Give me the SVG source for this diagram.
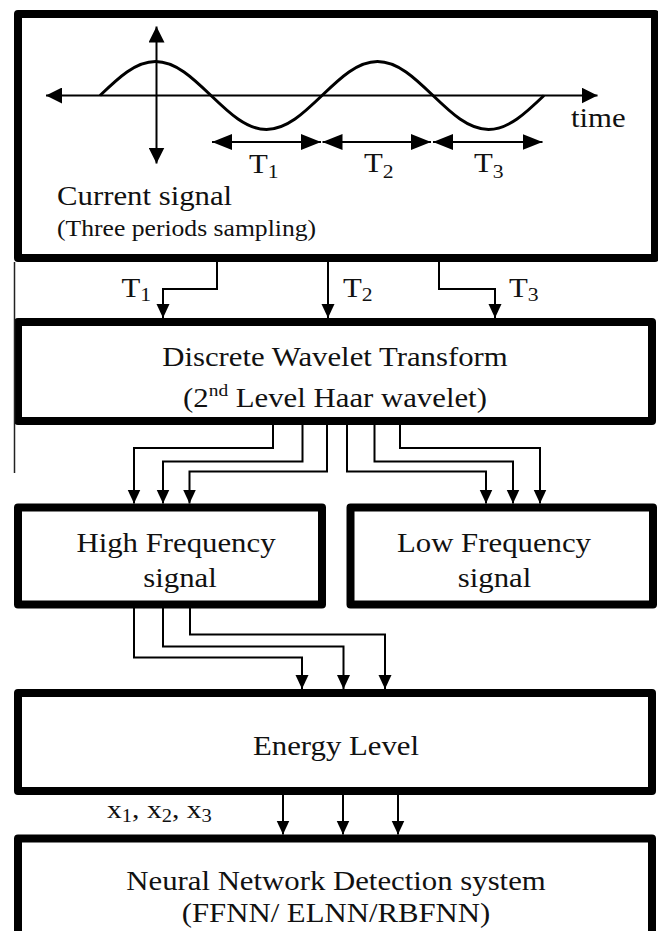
<svg xmlns="http://www.w3.org/2000/svg" width="658" height="931" viewBox="0 0 658 931">
  <defs>
    <style>
      .box{fill:#fff;stroke:#000;stroke-width:8;stroke-linejoin:round}
      .ln{fill:none;stroke:#000;stroke-width:2}
      .tx{font-family:"Liberation Serif","Times New Roman",serif;font-size:27px;fill:#111}
      .mid{text-anchor:middle}
    </style>
    <marker id="ah" viewBox="0 0 14 14" markerWidth="14" markerHeight="14" refX="14" refY="7" markerUnits="userSpaceOnUse" orient="auto">
      <path d="M0,0.5 L14,7 L0,13.5 Z" fill="#000"/>
    </marker>
    <marker id="big" viewBox="0 0 16 16" markerWidth="16" markerHeight="16" refX="16" refY="8" markerUnits="userSpaceOnUse" orient="auto-start-reverse">
      <path d="M0,0 L16,8 L0,16 Z" fill="#000"/>
    </marker>
    <marker id="tp" viewBox="0 0 20 16" markerWidth="20" markerHeight="16" refX="20" refY="8" markerUnits="userSpaceOnUse" orient="auto-start-reverse">
      <path d="M0,0 L20,8 L0,16 Z" fill="#000"/>
    </marker>
  </defs>
  <rect width="658" height="931" fill="#fff"/>

  <g id="current-signal">
    <rect class="box" x="18" y="14" width="637" height="244"/>
    <line class="ln" x1="46" y1="95.5" x2="597.5" y2="95.5" marker-start="url(#big)" marker-end="url(#big)"/>
    <line class="ln" x1="156.5" y1="26.5" x2="156.5" y2="163.5" marker-start="url(#big)" marker-end="url(#big)"/>
    <path d="M100,95.5 C118.1,78.1 135.4,61.5 155.5,61.5 C175.6,61.5 192.9,78.1 211,95.5 C229.1,112.9 246.4,129.5 266.5,129.5 C286.6,129.5 303.9,112.9 322,95.5 C340.1,78.1 357.4,61.5 377.5,61.5 C397.6,61.5 414.9,78.1 433,95.5 C451.1,112.9 468.4,129.5 488.5,129.5 C508.6,129.5 525.9,112.9 544,95.5" fill="none" stroke="#000" stroke-width="3"/>
    <line class="ln" x1="212" y1="142" x2="321" y2="142" marker-start="url(#tp)" marker-end="url(#tp)"/>
    <line class="ln" x1="322.5" y1="142" x2="431" y2="142" marker-start="url(#tp)" marker-end="url(#tp)"/>
    <line class="ln" x1="433" y1="142" x2="542.5" y2="142" marker-start="url(#tp)" marker-end="url(#tp)"/>
    <text class="tx" transform="translate(571,127) scale(1.14,1)">time</text>
    <text class="tx" transform="translate(249,172.5) scale(1.14,1)">T<tspan font-size="19" dy="5.5">1</tspan></text>
    <text class="tx" transform="translate(364,172) scale(1.14,1)">T<tspan font-size="19" dy="5.5">2</tspan></text>
    <text class="tx" transform="translate(474,172) scale(1.14,1)">T<tspan font-size="19" dy="5.5">3</tspan></text>
    <text class="tx" transform="translate(57,205) scale(1.14,1)">Current signal</text>
    <text class="tx" transform="translate(57,236) scale(1.14,1)" style="font-size:22.5px">(Three periods sampling)</text>
  </g>

  <g id="dwt">
    <rect class="box" x="18" y="322" width="634" height="99"/>
    <text class="tx mid" transform="translate(335,366) scale(1.14,1)">Discrete Wavelet Transform</text>
    <text class="tx mid" transform="translate(335,406.5) scale(1.14,1)">(2<tspan font-size="17" dy="-11">nd</tspan><tspan dy="11"> Level Haar wavelet)</tspan></text>
  </g>

  <g id="high-frequency">
    <rect class="box" x="18" y="507.5" width="304" height="97"/>
    <text class="tx mid" transform="translate(176,551.5) scale(1.14,1)">High Frequency</text>
    <text class="tx mid" transform="translate(180,586.5) scale(1.14,1)">signal</text>
  </g>

  <g id="low-frequency">
    <rect class="box" x="350.5" y="507.5" width="302.5" height="97"/>
    <text class="tx mid" transform="translate(494,551.5) scale(1.14,1)">Low Frequency</text>
    <text class="tx mid" transform="translate(494.5,586.5) scale(1.14,1)">signal</text>
  </g>

  <g id="energy-level">
    <rect class="box" x="18" y="693" width="634" height="98"/>
    <text class="tx mid" transform="translate(336,755) scale(1.14,1)">Energy Level</text>
  </g>

  <g id="neural-network">
    <rect class="box" x="18" y="838.5" width="634" height="150"/>
    <text class="tx mid" transform="translate(336,890) scale(1.14,1)">Neural Network Detection system</text>
    <text class="tx mid" transform="translate(336,921.5) scale(1.14,1)">(FFNN/ ELNN/RBFNN)</text>
  </g>

  <g id="connectors">
    <line x1="14.5" y1="262" x2="14.5" y2="473" stroke="#222" stroke-width="1.5"/>
    <path class="ln" d="M217,262 V289 H163 V318" marker-end="url(#ah)"/>
    <path class="ln" d="M328,262 V318" marker-end="url(#ah)"/>
    <path class="ln" d="M439,262 V289 H495 V318" marker-end="url(#ah)"/>
    <path class="ln" d="M273,425 V448 H134 V503.5" marker-end="url(#ah)"/>
    <path class="ln" d="M302.5,425 V461.5 H163 V503.5" marker-end="url(#ah)"/>
    <path class="ln" d="M327,425 V471.5 H189.5 V503.5" marker-end="url(#ah)"/>
    <path class="ln" d="M347,425 V471.5 H486 V503.5" marker-end="url(#ah)"/>
    <path class="ln" d="M374.5,425 V461.5 H513 V503.5" marker-end="url(#ah)"/>
    <path class="ln" d="M400,425 V448 H540 V503.5" marker-end="url(#ah)"/>
    <path class="ln" d="M134,608 V657.5 H302 V689" marker-end="url(#ah)"/>
    <path class="ln" d="M163,608 V646.5 H343.5 V689" marker-end="url(#ah)"/>
    <path class="ln" d="M190,608 V634.5 H385 V689" marker-end="url(#ah)"/>
    <path class="ln" d="M283,795 V834.5" marker-end="url(#ah)"/>
    <path class="ln" d="M343,795 V834.5" marker-end="url(#ah)"/>
    <path class="ln" d="M398,795 V834.5" marker-end="url(#ah)"/>
    <text class="tx" transform="translate(121.5,296.5) scale(1.14,1)">T<tspan font-size="19" dy="4.5">1</tspan></text>
    <text class="tx" transform="translate(343,296.5) scale(1.14,1)">T<tspan font-size="19" dy="4.5">2</tspan></text>
    <text class="tx" transform="translate(509,296.5) scale(1.14,1)">T<tspan font-size="19" dy="4.5">3</tspan></text>
    <text class="tx" style="font-size:26px" transform="translate(107,818) scale(1.14,1)">x<tspan font-size="18" dy="4">1</tspan><tspan dy="-4">, x</tspan><tspan font-size="18" dy="4">2</tspan><tspan dy="-4">, x</tspan><tspan font-size="18" dy="4">3</tspan></text>
  </g>
</svg>
